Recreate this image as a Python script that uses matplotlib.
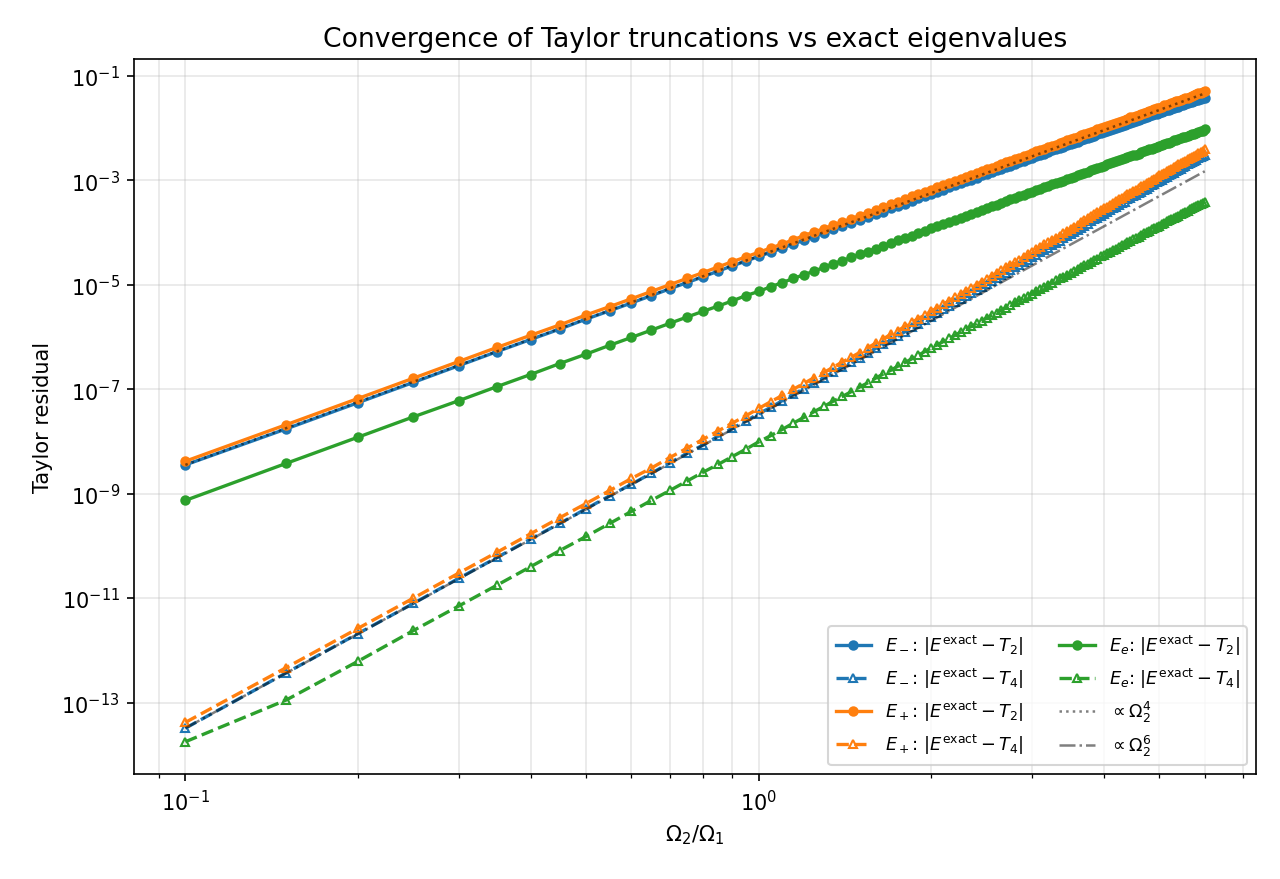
import numpy as np
import matplotlib
matplotlib.use("Agg")
import matplotlib.pyplot as plt

# Omega_2 / Omega_1 sample points
ratio = [0.10, 0.15, 0.20, 0.25, 0.30, 0.35, 0.40, 0.45, 0.50, 0.55,
         0.60, 0.65, 0.70, 0.75, 0.80, 0.85, 0.90, 0.95, 1.00, 1.05,
         1.10, 1.15, 1.20, 1.25, 1.30, 1.35, 1.40, 1.45, 1.50, 1.55,
         1.60, 1.65, 1.70, 1.75, 1.80, 1.85, 1.90, 1.95, 2.00, 2.05,
         2.10, 2.15, 2.20, 2.25, 2.30, 2.35, 2.40, 2.45, 2.50, 2.55,
         2.60, 2.65, 2.70, 2.75, 2.80, 2.85, 2.90, 2.95, 3.00, 3.05,
         3.10, 3.15, 3.20, 3.25, 3.30, 3.35, 3.40, 3.45, 3.50, 3.55,
         3.60, 3.65, 3.70, 3.75, 3.80, 3.85, 3.90, 3.95, 4.00, 4.05,
         4.10, 4.15, 4.20, 4.25, 4.30, 4.35, 4.40, 4.45, 4.50, 4.55,
         4.60, 4.65, 4.70, 4.75, 4.80, 4.85, 4.90, 4.95, 5.00, 5.05,
         5.10, 5.15, 5.20, 5.25, 5.30, 5.35, 5.40, 5.45, 5.50, 5.55,
         5.60, 5.65, 5.70, 5.75, 5.80, 5.85, 5.90, 5.95, 6.00]

# log10 of the residuals
log_Em_T2 = [-8.45, -7.76, -7.26, -6.87, -6.55, -6.28, -6.05, -5.85, -5.66, -5.50,
             -5.35, -5.21, -5.08, -4.96, -4.85, -4.74, -4.64, -4.55, -4.46, -4.38,
             -4.30, -4.22, -4.15, -4.08, -4.01, -3.94, -3.88, -3.82, -3.76, -3.70,
             -3.65, -3.60, -3.54, -3.49, -3.45, -3.40, -3.35, -3.31, -3.26, -3.22,
             -3.18, -3.14, -3.10, -3.06, -3.02, -2.99, -2.95, -2.91, -2.88, -2.85,
             -2.81, -2.78, -2.75, -2.72, -2.69, -2.66, -2.63, -2.60, -2.57, -2.54,
             -2.51, -2.49, -2.46, -2.43, -2.41, -2.38, -2.36, -2.33, -2.31, -2.28,
             -2.26, -2.24, -2.21, -2.19, -2.17, -2.15, -2.12, -2.10, -2.08, -2.06,
             -2.04, -2.02, -2.00, -1.98, -1.96, -1.94, -1.92, -1.90, -1.89, -1.87,
             -1.85, -1.83, -1.81, -1.80, -1.78, -1.76, -1.74, -1.73, -1.71, -1.70,
             -1.68, -1.66, -1.65, -1.63, -1.62, -1.60, -1.59, -1.57, -1.56, -1.54,
             -1.53, -1.51, -1.50, -1.48, -1.47, -1.46, -1.44, -1.43, -1.42]

log_Em_T4 = [-13.49, -12.43, -11.68, -11.10, -10.62, -10.22, -9.87, -9.57, -9.29, -9.04,
             -8.82, -8.61, -8.41, -8.23, -8.07, -7.90, -7.75, -7.61, -7.47, -7.35,
             -7.22, -7.10, -6.99, -6.88, -6.78, -6.68, -6.58, -6.49, -6.40, -6.31,
             -6.22, -6.14, -6.06, -5.98, -5.90, -5.82, -5.75, -5.68, -5.61, -5.54,
             -5.47, -5.41, -5.34, -5.28, -5.22, -5.16, -5.10, -5.04, -4.99, -4.93,
             -4.88, -4.82, -4.77, -4.72, -4.67, -4.62, -4.57, -4.52, -4.47, -4.43,
             -4.38, -4.33, -4.29, -4.24, -4.20, -4.16, -4.11, -4.07, -4.03, -3.99,
             -3.95, -3.91, -3.87, -3.83, -3.79, -3.75, -3.72, -3.68, -3.64, -3.61,
             -3.57, -3.54, -3.51, -3.47, -3.44, -3.41, -3.37, -3.34, -3.31, -3.28,
             -3.25, -3.22, -3.19, -3.16, -3.13, -3.10, -3.07, -3.04, -3.02, -2.99,
             -2.96, -2.93, -2.91, -2.88, -2.86, -2.83, -2.80, -2.78, -2.75, -2.73,
             -2.70, -2.68, -2.66, -2.63, -2.61, -2.58, -2.56, -2.54, -2.52]

log_Ep_T2 = [-8.38, -7.68, -7.18, -6.79, -6.47, -6.20, -5.97, -5.77, -5.58, -5.42,
             -5.27, -5.13, -5.00, -4.88, -4.77, -4.66, -4.56, -4.47, -4.38, -4.30,
             -4.22, -4.14, -4.06, -3.99, -3.93, -3.86, -3.80, -3.74, -3.68, -3.62,
             -3.57, -3.51, -3.46, -3.41, -3.36, -3.31, -3.27, -3.22, -3.18, -3.14,
             -3.10, -3.05, -3.01, -2.98, -2.94, -2.90, -2.86, -2.83, -2.79, -2.76,
             -2.73, -2.69, -2.66, -2.63, -2.60, -2.57, -2.54, -2.51, -2.48, -2.45,
             -2.42, -2.40, -2.37, -2.34, -2.32, -2.29, -2.26, -2.24, -2.21, -2.19,
             -2.17, -2.14, -2.12, -2.10, -2.07, -2.05, -2.03, -2.01, -1.99, -1.96,
             -1.94, -1.92, -1.90, -1.88, -1.86, -1.84, -1.82, -1.80, -1.79, -1.77,
             -1.75, -1.73, -1.71, -1.69, -1.68, -1.66, -1.64, -1.62, -1.61, -1.59,
             -1.57, -1.56, -1.54, -1.52, -1.51, -1.49, -1.48, -1.46, -1.45, -1.43,
             -1.42, -1.40, -1.39, -1.37, -1.36, -1.34, -1.33, -1.31, -1.30]

log_Ep_T4 = [-13.38, -12.33, -11.58, -11.00, -10.52, -10.12, -9.77, -9.46, -9.19, -8.94,
             -8.71, -8.51, -8.31, -8.13, -7.96, -7.80, -7.65, -7.51, -7.37, -7.24,
             -7.12, -7.00, -6.89, -6.78, -6.68, -6.58, -6.48, -6.39, -6.30, -6.21,
             -6.12, -6.04, -5.95, -5.88, -5.80, -5.72, -5.65, -5.58, -5.51, -5.44,
             -5.37, -5.31, -5.24, -5.18, -5.12, -5.06, -5.00, -4.94, -4.89, -4.83,
             -4.78, -4.72, -4.67, -4.62, -4.57, -4.52, -4.47, -4.42, -4.37, -4.32,
             -4.28, -4.23, -4.19, -4.14, -4.10, -4.06, -4.01, -3.97, -3.93, -3.89,
             -3.85, -3.81, -3.77, -3.73, -3.69, -3.65, -3.61, -3.58, -3.54, -3.51,
             -3.47, -3.44, -3.40, -3.37, -3.34, -3.30, -3.27, -3.24, -3.21, -3.18,
             -3.15, -3.12, -3.09, -3.06, -3.03, -3.00, -2.97, -2.94, -2.91, -2.89,
             -2.86, -2.83, -2.81, -2.78, -2.75, -2.73, -2.70, -2.68, -2.65, -2.63,
             -2.60, -2.58, -2.55, -2.53, -2.51, -2.48, -2.46, -2.44, -2.41]

log_Ee_T2 = [-9.13, -8.42, -7.92, -7.53, -7.22, -6.95, -6.72, -6.51, -6.33, -6.16,
             -6.01, -5.87, -5.74, -5.62, -5.51, -5.41, -5.31, -5.21, -5.13, -5.04,
             -4.96, -4.88, -4.81, -4.74, -4.67, -4.60, -4.54, -4.48, -4.42, -4.37,
             -4.31, -4.26, -4.21, -4.15, -4.11, -4.06, -4.01, -3.97, -3.92, -3.88,
             -3.84, -3.80, -3.76, -3.72, -3.68, -3.64, -3.61, -3.57, -3.54, -3.50,
             -3.47, -3.44, -3.40, -3.37, -3.34, -3.31, -3.28, -3.25, -3.22, -3.19,
             -3.17, -3.14, -3.11, -3.08, -3.06, -3.03, -3.01, -2.98, -2.96, -2.93,
             -2.91, -2.88, -2.86, -2.84, -2.81, -2.79, -2.77, -2.75, -2.73, -2.70,
             -2.68, -2.66, -2.64, -2.62, -2.60, -2.58, -2.56, -2.54, -2.52, -2.51,
             -2.49, -2.47, -2.45, -2.43, -2.41, -2.40, -2.38, -2.36, -2.34, -2.33,
             -2.31, -2.29, -2.28, -2.26, -2.24, -2.23, -2.21, -2.20, -2.18, -2.17,
             -2.15, -2.14, -2.12, -2.11, -2.09, -2.08, -2.06, -2.05, -2.03]

log_Ee_T4 = [-13.75, -12.95, -12.21, -11.62, -11.15, -10.75, -10.40, -10.09, -9.82, -9.57,
             -9.34, -9.13, -8.94, -8.76, -8.59, -8.44, -8.29, -8.15, -8.01, -7.89,
             -7.77, -7.65, -7.54, -7.43, -7.33, -7.23, -7.14, -7.05, -6.96, -6.88,
             -6.79, -6.71, -6.64, -6.56, -6.49, -6.42, -6.35, -6.28, -6.21, -6.15,
             -6.09, -6.03, -5.97, -5.91, -5.85, -5.80, -5.74, -5.69, -5.64, -5.59,
             -5.54, -5.49, -5.44, -5.39, -5.34, -5.30, -5.25, -5.21, -5.17, -5.12,
             -5.08, -5.04, -5.00, -4.96, -4.92, -4.88, -4.85, -4.81, -4.77, -4.74,
             -4.70, -4.67, -4.63, -4.60, -4.56, -4.53, -4.50, -4.46, -4.43, -4.40,
             -4.37, -4.34, -4.31, -4.28, -4.25, -4.22, -4.19, -4.16, -4.13, -4.11,
             -4.08, -4.05, -4.02, -4.00, -3.97, -3.94, -3.92, -3.89, -3.87, -3.84,
             -3.82, -3.79, -3.77, -3.75, -3.72, -3.70, -3.68, -3.65, -3.63, -3.61,
             -3.59, -3.56, -3.54, -3.52, -3.50, -3.48, -3.46, -3.44, -3.41]

# reference power-law guide lines (end points)
ref_x = [0.10, 6.00]
log_ref4 = [-8.45, -1.34]
log_ref6 = [-13.49, -2.83]

labels = [r"$E_-$: $|E^{\rm exact}-T_2|$", r"$E_-$: $|E^{\rm exact}-T_4|$",
          r"$E_+$: $|E^{\rm exact}-T_2|$", r"$E_+$: $|E^{\rm exact}-T_4|$",
          r"$E_e$: $|E^{\rm exact}-T_2|$", r"$E_e$: $|E^{\rm exact}-T_4|$",
          r"$\propto\Omega_2^4$", r"$\propto\Omega_2^6$"]

x = np.array(ratio)
series = [(log_Em_T2, log_Em_T4, "C0"),
          (log_Ep_T2, log_Ep_T4, "C1"),
          (log_Ee_T2, log_Ee_T4, "C2")]

fig, ax = plt.subplots(figsize=(1280 / 150, 880 / 150), dpi=150)
k = 0
for t2, t4, c in series:
    ax.plot(x, 10.0 ** np.array(t2), "-", color=c, marker="o", ms=4, lw=1.6,
            label=labels[k])
    ax.plot(x, 10.0 ** np.array(t4), "--", color=c, marker="^", ms=4, lw=1.6,
            mfc="none", mew=1.0, label=labels[k + 1])
    k += 2
ax.plot(ref_x, 10.0 ** np.array(log_ref4), ":", color="k", alpha=0.5, lw=1.2,
        label=labels[6])
ax.plot(ref_x, 10.0 ** np.array(log_ref6), "-.", color="k", alpha=0.5, lw=1.2,
        label=labels[7])

ax.set_xscale("log")
ax.set_yscale("log")
ax.grid(True, which="major", alpha=0.3)
ax.grid(True, which="minor", axis="x", alpha=0.3)
ax.set_xlabel(r"$\Omega_2/\Omega_1$")
ax.set_ylabel("Taylor residual")
ax.set_title("Convergence of Taylor truncations vs exact eigenvalues", fontsize=12.8)
ax.legend(loc="lower right", ncol=2, fontsize=8.5)
fig.subplots_adjust(left=0.105, right=0.981, top=0.932, bottom=0.119)
fig.savefig("out.png", dpi=150)
